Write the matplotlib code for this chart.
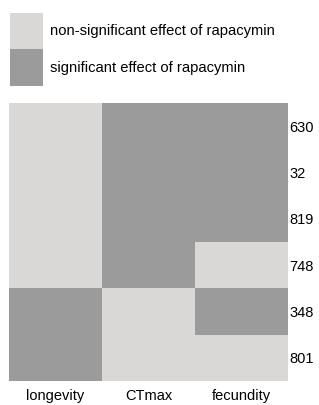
import numpy as np
import matplotlib
matplotlib.use('Agg')
from matplotlib import pyplot as plt
from matplotlib.colors import ListedColormap
from matplotlib.patches import Patch

plt.rcParams['font.family'] = ['Liberation Sans', 'DejaVu Sans']

traits = ['longevity', 'CTmax', 'fecundity']
lines = ['630', '32', '819', '748', '348', '801']
# 1 = significant effect, 0 = non-significant
signif = np.array([
    [0, 1, 1],
    [0, 1, 1],
    [0, 1, 1],
    [0, 1, 0],
    [1, 0, 1],
    [1, 0, 0],
])
labels = ['non-significant effect of rapacymin', 'significant effect of rapacymin']
colors = ['#d9d8d7', '#9b9b9b']

fig = plt.figure(figsize=(3.19, 4.05), dpi=100)
ax = fig.add_axes([9 / 319, 24 / 405, 279 / 319, 278 / 405])
ax.imshow(signif, cmap=ListedColormap(colors), vmin=0, vmax=1,
          aspect='auto', interpolation='nearest')

ax.set_xticks(range(len(traits)))
ax.set_xticklabels(traits, fontsize=10.5)
ax.set_yticks(range(len(lines)))
ax.set_yticklabels(lines, fontsize=10.5)
ax.yaxis.tick_right()
ax.tick_params(axis='y', length=0, pad=1)
ax.tick_params(axis='x', length=0, pad=6)
for s in ax.spines.values():
    s.set_visible(False)

handles = [Patch(facecolor=c, edgecolor='none') for c in colors]
fig.legend(handles, labels, loc='upper left', bbox_to_anchor=(10 / 319, 1 - 13 / 405),
           frameon=False, fontsize=10.6, handlelength=2.24, handleheight=3.42,
           labelspacing=0, handletextpad=0.5, borderpad=0, borderaxespad=0)

fig.savefig('out.png', dpi=100)
